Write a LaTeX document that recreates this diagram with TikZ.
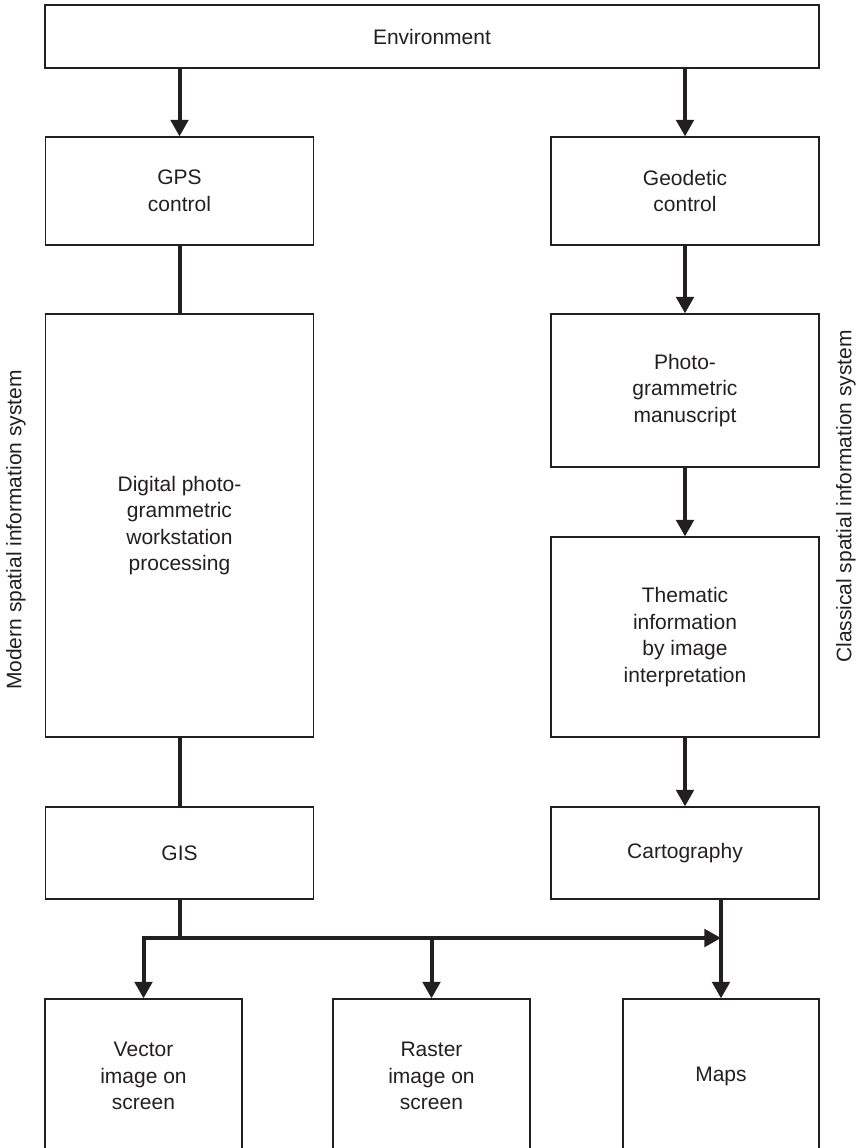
\documentclass[tikz,border=0pt]{standalone}
\usepackage{fontspec}
\setmainfont{Liberation Sans}
\usetikzlibrary{arrows.meta}
\definecolor{ink}{RGB}{35,31,32}

\begin{document}
\begin{tikzpicture}[x=0.5pt,y=-0.5pt,
        font=\fontsize{10.5}{13.3}\selectfont,text=ink,
        box/.style={draw=ink,line width=0.6pt,align=center,inner sep=0pt,minimum width=134pt},
        link/.style={draw=ink,line width=2pt},
        flow/.style={link,-{Triangle[width=8.7pt,length=8.3pt]}}]
    \useasboundingbox (0,0) rectangle (862,1148);
    \clip (0,0) rectangle (862,1148);

    \node[box,minimum width=387pt,minimum height=31.5pt] (env) at (432,36.5) {Environment};

    % left column
    \node[box,minimum height=54pt] (gps) at (179.5,191) {GPS\\control};
    \node[box,minimum height=211.5pt] (dig) at (179.5,525.5) {Digital photo-\\grammetric\\workstation\\processing};
    \node[box,minimum height=46pt] (gis) at (179.5,853) {GIS};

    % right column
    \node[box,minimum height=54pt] (geo) at (685,191) {Geodetic\\control};
    \node[box,minimum height=76.5pt] (photo) at (685,390.5) {Photo-\\grammetric\\manuscript};
    \node[box,minimum height=100pt] (them) at (685,637) {Thematic\\information\\by image\\interpretation};
    \node[box,minimum height=46pt] (carto) at (685,853) {Cartography};

    % products
    \node[box,minimum width=98.5pt,minimum height=77pt] (vec) at (143.5,1076) {Vector\\image on\\screen};
    \node[box,minimum width=98.5pt,minimum height=77pt] (ras) at (431.5,1076) {Raster\\image on\\screen};
    \node[box,minimum width=98pt,minimum height=77pt] (maps) at (721,1076) {Maps};

    \node[rotate=90] (modern) at (16,530) {Modern spatial information system};
    \node[rotate=90] (classic) at (846,496.5) {Classical spatial information system};

    \draw[flow] (env.south -| gps.north) -- (gps.north);
    \draw[flow] (env.south -| geo.north) -- (geo.north);
    \draw[link] (gps.south) -- (dig.north);
    \draw[link] (dig.south) -- (gis.north);
    \draw[flow] (geo.south) -- (photo.north);
    \draw[flow] (photo.south) -- (them.north);
    \draw[flow] (them.south) -- (carto.north);

    \coordinate (bus) at (vec.north |- 0,938);
    \draw[link] (gis.south) -- (gis.south |- bus);
    \draw[link,{Triangle[width=8.7pt,length=8.3pt]}-{Triangle[width=8.7pt,length=8.3pt]}]
        (vec.north) -- (bus) -- (bus -| maps.north);
    \draw[flow] (bus -| ras.north) -- (ras.north);
    \draw[flow] (carto.south -| maps.north) -- (maps.north);
\end{tikzpicture}
\end{document}
